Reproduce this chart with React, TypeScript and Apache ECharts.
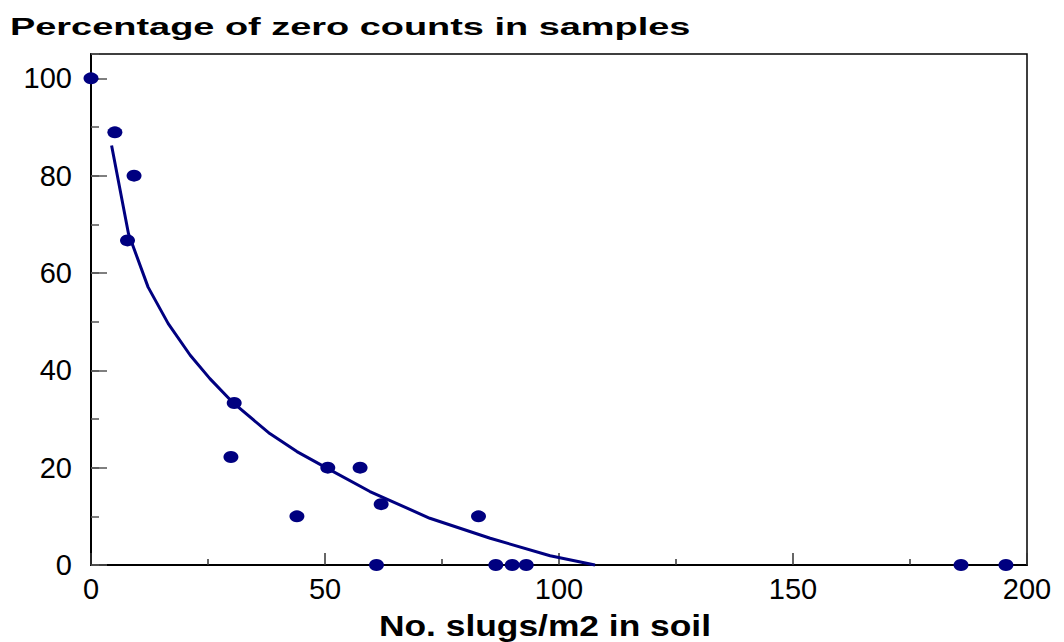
import React, { useEffect, useRef } from "react";
import * as echarts from "echarts";

const TITLE = "Percentage of zero counts in samples";
const X_NAME = "No. slugs/m2 in soil";

// observed samples: slugs per m2 vs % zero counts
const slugX = [0, 5.1, 9.2, 7.8, 30.6, 29.9, 44.0, 50.6, 57.5, 62.0, 82.8, 61.0, 86.5, 90.0, 93.0, 185.9, 195.5];
const zeroPct = [100, 88.9, 80, 66.7, 33.3, 22.2, 10, 20, 20, 12.5, 10, 0, 0, 0, 0, 0, 0];

// fitted curve
const curveX = [4.4, 8.0, 12.2, 16.5, 21.2, 25.4, 30.4, 38.2, 44.0, 50.4, 59.6, 72.4, 85.3, 98.1, 107.7];
const curveY = [86.2, 68.1, 57.1, 49.6, 43.1, 38.3, 33.3, 27.0, 23.3, 19.9, 15.1, 9.6, 5.5, 1.9, 0];

const NAVY = "#000080";

export default function App() {
  const ref = useRef<HTMLDivElement>(null);
  useEffect(() => {
    if (!ref.current) return;
    const chart = echarts.init(ref.current, null, { renderer: "svg" });
    const points = slugX.map((x, i) => [x, zeroPct[i]]);
    const curve = curveX.map((x, i) => [x, curveY[i]]);
    const labelFont = { fontFamily: "Liberation Sans, Arial, sans-serif", fontSize: 29, color: "#000" };
    chart.setOption({
      animation: false,
      backgroundColor: "#fff",
      grid: {
        left: 91,
        right: 37,
        top: 54,
        bottom: 77,
        show: true,
        borderColor: "#000",
        borderWidth: 1.5,
        backgroundColor: "transparent",
      },
      xAxis: {
        type: "value",
        min: 0,
        max: 200,
        interval: 50,
        axisLine: { show: true, onZero: false, lineStyle: { color: "#000", width: 2 } },
        axisTick: { show: true, inside: true, length: 12, lineStyle: { color: "#333", width: 1.5 } },
        minorTick: { show: true, splitNumber: 2, length: 6, lineStyle: { color: "#333", width: 1.5 } },
        axisLabel: { ...labelFont, margin: 9 },
        splitLine: { show: false },
      },
      yAxis: [
        {
          type: "value",
          position: "left",
          min: 0,
          max: 105,
          interval: 10,
          axisLine: { show: true, onZero: false, lineStyle: { color: "#000", width: 2 } },
          axisTick: { show: true, inside: true, length: 8, lineStyle: { color: "#555", width: 1.5 } },
          axisLabel: { show: false },
          splitLine: { show: false },
        },
        {
          type: "value",
          position: "left",
          min: 0,
          max: 105,
          interval: 20,
          axisLine: { show: false, onZero: false },
          axisTick: { show: true, inside: true, length: 16, lineStyle: { color: "#555", width: 1.5 } },
          axisLabel: {
            ...labelFont,
            margin: 19,
            showMaxLabel: false,
            formatter: (v: number) => (v % 20 === 0 ? String(v) : ""),
          },
          splitLine: { show: false },
        },
      ],
      graphic: [
        {
          type: "text",
          x: 10,
          y: 27,
          scaleX: 1.58,
          style: {
            text: TITLE,
            x: 0,
            y: 0,
            fill: "#000",
            font: "bold 24px 'Liberation Sans', Arial, sans-serif",
            textAlign: "left",
            textVerticalAlign: "middle",
          },
        },
        {
          type: "text",
          x: 545,
          y: 626,
          scaleX: 1.22,
          style: {
            text: X_NAME,
            x: 0,
            y: 0,
            fill: "#000",
            font: "bold 29px 'Liberation Sans', Arial, sans-serif",
            textAlign: "center",
            textVerticalAlign: "middle",
          },
        },
      ],
      series: [
        {
          type: "line",
          data: curve,
          showSymbol: false,
          smooth: false,
          clip: false,
          lineStyle: { color: NAVY, width: 3 },
          z: 2,
        },
        {
          type: "scatter",
          data: points,
          symbol: "circle",
          symbolSize: [15, 12],
          clip: false,
          itemStyle: { color: NAVY, opacity: 1 },
          z: 3,
        },
      ],
    });
    return () => chart.dispose();
  }, []);
  return (
    <div
      ref={ref}
      style={{ position: "absolute", left: 0, top: 0, width: 1064, height: 642 }}
    />
  );
}
